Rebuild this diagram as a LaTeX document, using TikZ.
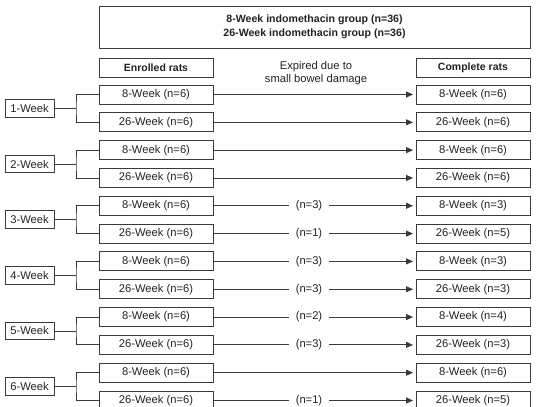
\documentclass[tikz,border=0pt]{standalone}
\usepackage{fontspec}
\setmainfont{Liberation Sans}
\usetikzlibrary{arrows.meta}
\definecolor{ink}{HTML}{3A3A3A}
\definecolor{txt}{HTML}{222222}
\tikzset{
  bx/.style={draw=ink, line width=0.9pt, minimum width=114pt, minimum height=19pt, inner sep=0pt, text=txt, font=\fontsize{11.2}{13}\selectfont},
  hd/.style={bx, font=\fontsize{10.5}{13}\selectfont\bfseries},
  wk/.style={draw=ink, line width=0.9pt, minimum width=49pt, minimum height=17.5pt, inner sep=0pt, text=txt, font=\fontsize{11.2}{13}\selectfont},
  lbl/.style={inner xsep=7pt, inner ysep=0pt, text=txt, font=\fontsize{11.2}{13}\selectfont},
  ln/.style={draw=ink, line width=0.9pt},
  arr/.style={ln, -{Triangle[length=7pt,width=6pt]}, shorten >=2.5pt}
}
\begin{document}
\begin{tikzpicture}[x=1pt,y=-1pt]
\useasboundingbox (0,0) rectangle (536,407);
\node[draw=ink, line width=1pt, minimum width=431pt, minimum height=42pt, inner sep=0pt, align=center, text=txt, font=\fontsize{10.6}{14}\selectfont\bfseries] (top) at (314.5,27) {8-Week indomethacin group (n=36)\\26-Week indomethacin group (n=36)};
\node[hd] (enr) at (156,67.5) {Enrolled rats};
\node[hd] (cmp) at (473,67.5) {Complete rats};
\node[align=center, text=txt, font=\fontsize{11.2}{13}\selectfont, inner sep=0pt] (exp) at (316,73.5) {Expired due to\\small bowel damage};
\def\nolbl{-}
\foreach \k/\ma/\ra/\mb/\rb in {1/-/6/-/6, 2/-/6/-/6, 3/3/3/1/5, 4/3/3/3/3, 5/2/4/3/3, 6/-/6/1/5}{
  \pgfmathsetmacro\ya{94.5+55.64*(\k-1)}
  \pgfmathsetmacro\yb{\ya+27.82}
  \pgfmathsetmacro\yw{\ya+13.91}
  \node[wk] (W\k) at (29.5,\yw) {\k-Week};
  \node[bx] (La\k) at (156,\ya) {8-Week (n=6)};
  \node[bx] (Lb\k) at (156,\yb) {26-Week (n=6)};
  \node[bx] (Ra\k) at (473,\ya) {8-Week (n=\ra)};
  \node[bx] (Rb\k) at (473,\yb) {26-Week (n=\rb)};
  \coordinate (B\k) at (76,\yw);
  \draw[ln] (W\k.east) -- (B\k);
  \draw[ln] (La\k.west) -| (B\k) |- (Lb\k.west);
  \ifx\ma\nolbl
    \draw[arr] (La\k.east) -- (Ra\k.west);
  \else
    \node[lbl] (Ma\k) at (309,\ya) {(n=\ma)};
    \draw[ln] (La\k.east) -- (Ma\k.west);
    \draw[arr] (Ma\k.east) -- (Ra\k.west);
  \fi
  \ifx\mb\nolbl
    \draw[arr] (Lb\k.east) -- (Rb\k.west);
  \else
    \node[lbl] (Mb\k) at (309,\yb) {(n=\mb)};
    \draw[ln] (Lb\k.east) -- (Mb\k.west);
    \draw[arr] (Mb\k.east) -- (Rb\k.west);
  \fi
}
\end{tikzpicture}
\end{document}
